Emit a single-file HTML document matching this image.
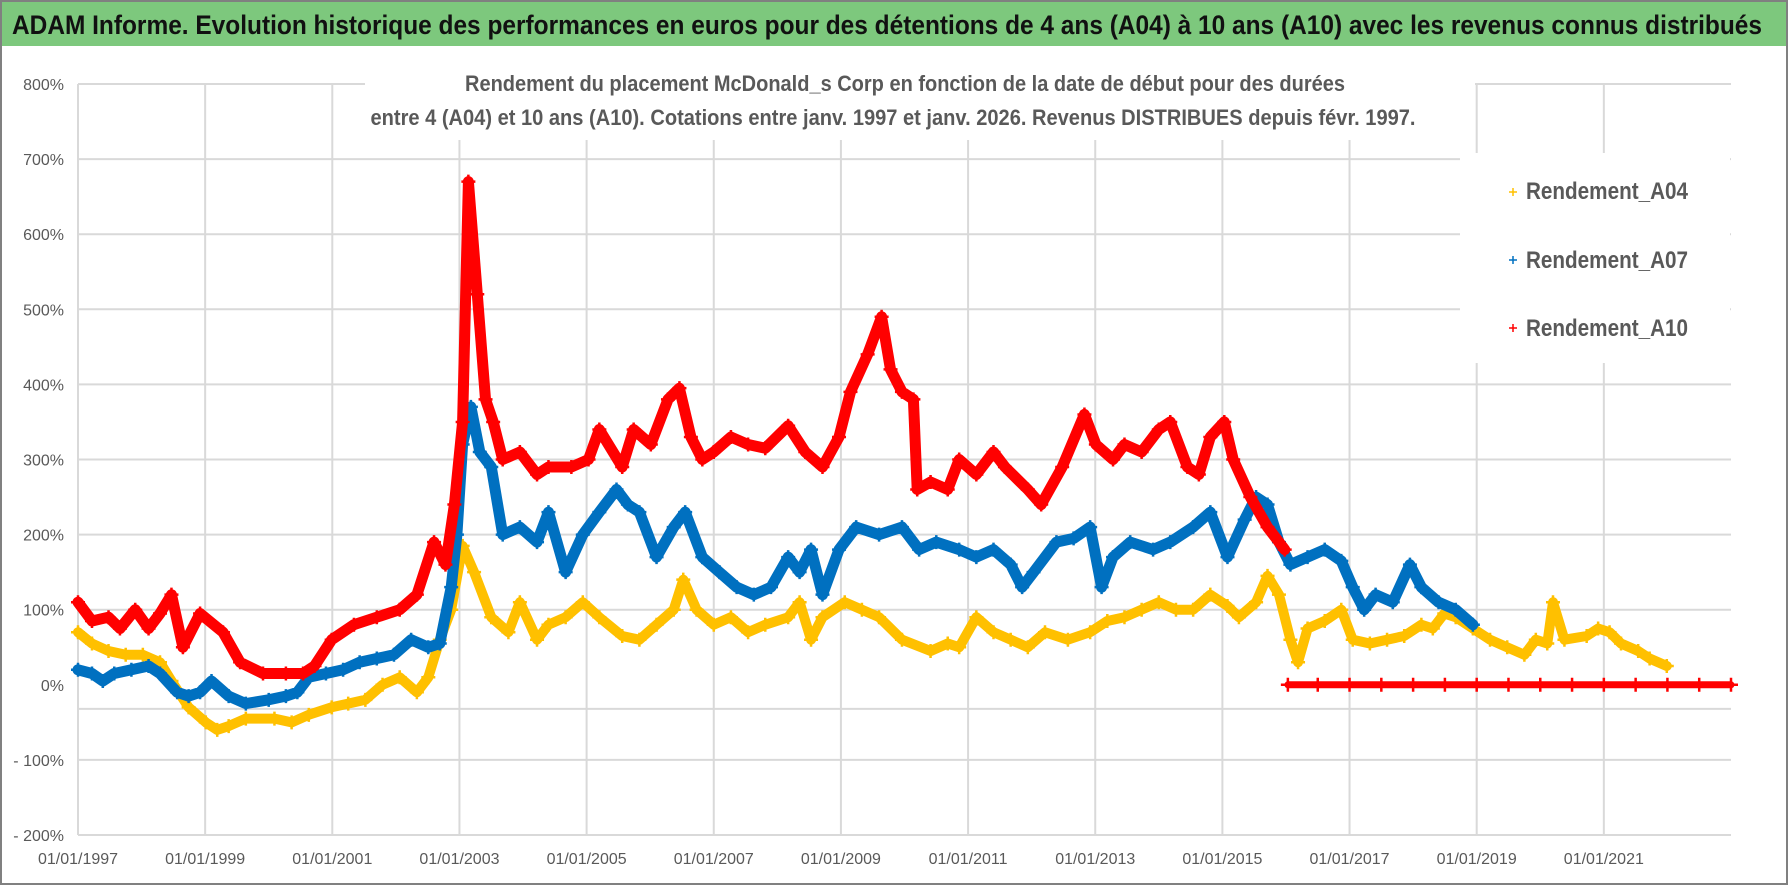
<!DOCTYPE html>
<html><head><meta charset="utf-8">
<style>
html,body{margin:0;padding:0;background:#fff;}
svg{display:block;font-family:"Liberation Sans",sans-serif;}
</style></head>
<body>
<svg id="chart" width="1790" height="886" viewBox="0 0 1790 886">
  <rect x="0" y="0" width="1790" height="886" fill="#fff"/>
  <rect x="1" y="1" width="1786" height="883" fill="none" stroke="#808080" stroke-width="2"/>
  <rect x="2" y="2" width="1784" height="44" fill="#7dc87d"/>
  <text x="12" y="34" font-size="27" font-weight="bold" fill="#111" textLength="1750" lengthAdjust="spacingAndGlyphs">ADAM Informe. Evolution historique des performances en euros pour des détentions de 4 ans (A04) à 10 ans (A10) avec les revenus connus distribués</text>
  <g id="grid"></g>
  <g id="series"></g>
  <rect x="365" y="52" width="1110" height="88" fill="#fff"/>
  <text x="905" y="91" font-size="22" font-weight="bold" fill="#595959" text-anchor="middle" textLength="880" lengthAdjust="spacingAndGlyphs">Rendement du placement McDonald_s Corp en fonction de la date de début pour des durées</text>
  <text x="893" y="125" font-size="22" font-weight="bold" fill="#595959" text-anchor="middle" textLength="1045" lengthAdjust="spacingAndGlyphs">entre 4 (A04) et 10 ans (A10). Cotations entre janv. 1997 et janv. 2026. Revenus DISTRIBUES depuis févr. 1997.</text>
  <g>
    <rect x="1460" y="153" width="270" height="210" fill="#fff"/>
    <g>
      <path d="M1509 192h8M1513 188v8" stroke="#FFC000" stroke-width="1.5"/>
      <text x="1526" y="199" font-size="24" font-weight="bold" fill="#595959" textLength="162" lengthAdjust="spacingAndGlyphs">Rendement_A04</text>
    </g>
    <g>
      <path d="M1509 260h8M1513 256v8" stroke="#0070C0" stroke-width="1.5"/>
      <text x="1526" y="268" font-size="24" font-weight="bold" fill="#595959" textLength="162" lengthAdjust="spacingAndGlyphs">Rendement_A07</text>
    </g>
    <g>
      <path d="M1509 328h8M1513 324v8" stroke="#FF0000" stroke-width="1.5"/>
      <text x="1526" y="336" font-size="24" font-weight="bold" fill="#595959" textLength="162" lengthAdjust="spacingAndGlyphs">Rendement_A10</text>
    </g>
  </g>
  <g id="axes"></g>
</svg>
<script>
const yTicks = [800,700,600,500,400,300,200,100,0,-100,-200];
const yTickLabels = ["800%","700%","600%","500%","400%","300%","200%","100%","0%","- 100%","- 200%"];
const xTicks = [1997,1999,2001,2003,2005,2007,2009,2011,2013,2015,2017,2019,2021];
const xTickLabels = ["01/01/1997","01/01/1999","01/01/2001","01/01/2003","01/01/2005","01/01/2007","01/01/2009","01/01/2011","01/01/2013","01/01/2015","01/01/2017","01/01/2019","01/01/2021"];

const a10Dates = [1997.00,1997.22,1997.48,1997.66,1997.90,1998.11,1998.29,1998.47,1998.65,1998.92,1999.28,1999.55,1999.91,2000.27,2000.54,2000.72,2000.99,2001.34,2001.70,2002.06,2002.33,2002.60,2002.78,2002.92,2003.05,2003.14,2003.28,2003.41,2003.53,2003.68,2003.95,2004.22,2004.40,2004.76,2005.03,2005.20,2005.56,2005.74,2006.01,2006.28,2006.46,2006.64,2006.82,2007.00,2007.27,2007.54,2007.81,2008.17,2008.44,2008.71,2008.97,2009.15,2009.42,2009.64,2009.78,2009.96,2010.14,2010.20,2010.41,2010.68,2010.86,2011.13,2011.40,2011.58,2011.94,2012.15,2012.48,2012.83,2013.01,2013.28,2013.46,2013.73,2014.00,2014.18,2014.45,2014.63,2014.81,2015.03,2015.17,2015.44,2015.71,2015.98];
const a10Values = [110,85,90,75,100,75,95,120,50,95,70,30,15,15,15,25,60,80,90,100,120,190,160,240,350,670,520,380,350,300,310,280,290,290,300,340,290,340,320,380,395,330,300,310,330,320,315,345,310,290,330,390,440,490,420,390,380,260,270,260,300,280,310,290,260,240,290,360,320,300,320,310,340,350,290,280,330,350,300,250,210,180];
const a10ZeroDates = [2016.03,2016.5,2017.0,2017.5,2018.0,2018.5,2019.0,2019.5,2020.0,2020.5,2021.0,2021.5,2022.0,2022.5,2023.0];
const a10ZeroValues = [0,0,0,0,0,0,0,0,0,0,0,0,0,0,0];

const a07Dates = [1997.00,1997.22,1997.39,1997.57,1997.84,1998.11,1998.29,1998.56,1998.74,1998.92,1999.10,1999.37,1999.64,2000.00,2000.27,2000.45,2000.63,2000.90,2001.17,2001.43,2001.70,2001.97,2002.24,2002.51,2002.69,2002.87,2002.96,2003.05,2003.18,2003.32,2003.50,2003.68,2003.95,2004.22,2004.40,2004.67,2004.94,2005.20,2005.47,2005.65,2005.83,2006.10,2006.37,2006.55,2006.82,2007.09,2007.36,2007.63,2007.90,2008.17,2008.35,2008.53,2008.71,2008.97,2009.24,2009.60,2009.96,2010.23,2010.50,2010.86,2011.13,2011.40,2011.67,2011.85,2012.03,2012.39,2012.66,2012.92,2013.10,2013.28,2013.55,2013.91,2014.18,2014.54,2014.81,2015.08,2015.35,2015.53,2015.71,2015.89,2016.07,2016.34,2016.61,2016.87,2017.05,2017.23,2017.41,2017.68,2017.95,2018.13,2018.40,2018.67,2018.94];
const a07Values = [20,15,5,15,20,25,15,-10,-15,-10,5,-15,-25,-20,-15,-10,10,15,20,30,35,40,60,50,55,130,200,320,370,310,290,200,210,190,230,150,200,230,260,240,230,170,210,230,170,150,130,120,130,170,150,180,120,180,210,200,210,180,190,180,170,180,160,130,150,190,195,210,130,170,190,180,190,210,230,170,220,250,240,190,160,170,180,165,130,100,120,110,160,130,110,100,80];

const a04Dates = [1997.00,1997.22,1997.48,1997.75,1998.02,1998.29,1998.47,1998.74,1999.01,1999.19,1999.37,1999.64,2000.09,2000.36,2000.63,2000.99,2001.25,2001.52,2001.79,2002.06,2002.33,2002.51,2002.69,2002.87,2003.05,2003.23,2003.50,2003.77,2003.95,2004.22,2004.40,2004.67,2004.94,2005.20,2005.56,2005.83,2006.10,2006.37,2006.52,2006.73,2007.00,2007.27,2007.54,2007.81,2008.17,2008.35,2008.53,2008.71,2009.06,2009.33,2009.60,2009.96,2010.41,2010.68,2010.86,2011.13,2011.40,2011.67,2011.94,2012.21,2012.57,2012.92,2013.19,2013.46,2013.73,2014.00,2014.27,2014.54,2014.81,2015.08,2015.26,2015.53,2015.71,2015.89,2016.07,2016.19,2016.34,2016.61,2016.87,2017.05,2017.32,2017.59,2017.86,2018.13,2018.31,2018.49,2018.67,2018.94,2019.21,2019.48,2019.75,2019.93,2020.11,2020.20,2020.38,2020.73,2020.91,2021.09,2021.27,2021.54,2021.72,2021.99];
const a04Values = [70,55,45,40,40,30,5,-30,-50,-60,-55,-45,-45,-50,-40,-30,-25,-20,0,10,-10,10,60,100,185,150,90,70,110,60,80,90,110,90,65,60,80,100,140,100,80,90,70,80,90,110,60,90,110,100,90,60,45,55,50,90,70,60,50,70,60,70,85,90,100,110,100,100,120,105,90,110,145,120,60,30,75,85,100,60,55,60,65,80,75,95,90,75,60,50,40,60,55,110,60,65,75,70,55,45,35,25];

const NS = "http://www.w3.org/2000/svg";
const plotL = 78, plotR = 1731, plotT = 84, plotB = 835;
const xMin = 1997, xMax = 2023, yMin = -200, yMax = 800;
function xs(v){ return plotL + (v - xMin) / (xMax - xMin) * (plotR - plotL); }
function ys(v){ return plotB - (v - yMin) / (yMax - yMin) * (plotB - plotT); }
function mk(tag, attrs, parent){ const e = document.createElementNS(NS, tag); for (const k in attrs) e.setAttribute(k, attrs[k]); parent.appendChild(e); return e; }

const grid = document.getElementById('grid');
yTicks.forEach((t, i) => {
  const yy = (t === 0) ? ys(-32) : ys(t);
  const ln = mk('line', {x1: plotL, x2: plotR, y1: yy, y2: yy, stroke: '#d9d9d9', 'stroke-width': 2}, grid);
  
  
});
xTicks.forEach((t, i) => {
  const ln = mk('line', {x1: xs(t), x2: xs(t), y1: plotT, y2: plotB, stroke: '#d9d9d9', 'stroke-width': 2}, grid);
  
  
});

const axes = document.getElementById('axes');
yTicks.forEach((t, i) => {
  const tx = mk('text', {x: 64, y: ys(t) + 6, 'font-size': 16, fill: '#595959', 'text-anchor': 'end'}, axes);
  tx.textContent = yTickLabels[i];
  
  
});
xTicks.forEach((t, i) => {
  const tx = mk('text', {x: xs(t), y: 864, 'font-size': 16, fill: '#595959', 'text-anchor': 'middle'}, axes);
  tx.textContent = xTickLabels[i];
  
  
});

const seriesG = document.getElementById('series');
function drawSeries(dates, values, color, name, lineW){
  const g = mk('g', {}, seriesG);
  
  
  const pts = dates.map((d, i) => xs(d).toFixed(1) + ',' + ys(values[i]).toFixed(1)).join(' ');
  const pl = mk('polyline', {points: pts, fill: 'none', stroke: color, 'stroke-width': lineW, 'stroke-linejoin': 'round', 'stroke-linecap': 'round'}, g);
  
  
  dates.forEach((d, i) => {
    const x = xs(d), y = ys(values[i]);
    const p = mk('path', {d: `M${x-7} ${y}h14M${x} ${y-7}v14`, stroke: color, 'stroke-width': 2.5}, g);
    
    
  });
}
drawSeries(a04Dates, a04Values, '#FFC000', 'series-a04', 10);
drawSeries(a07Dates, a07Values, '#0070C0', 'series-a07', 11);
drawSeries(a10Dates, a10Values, '#FF0000', 'series-a10', 11);
drawSeries(a10ZeroDates, a10ZeroValues, '#FF0000', 'series-a10-zero', 7);
</script>
</body></html>
